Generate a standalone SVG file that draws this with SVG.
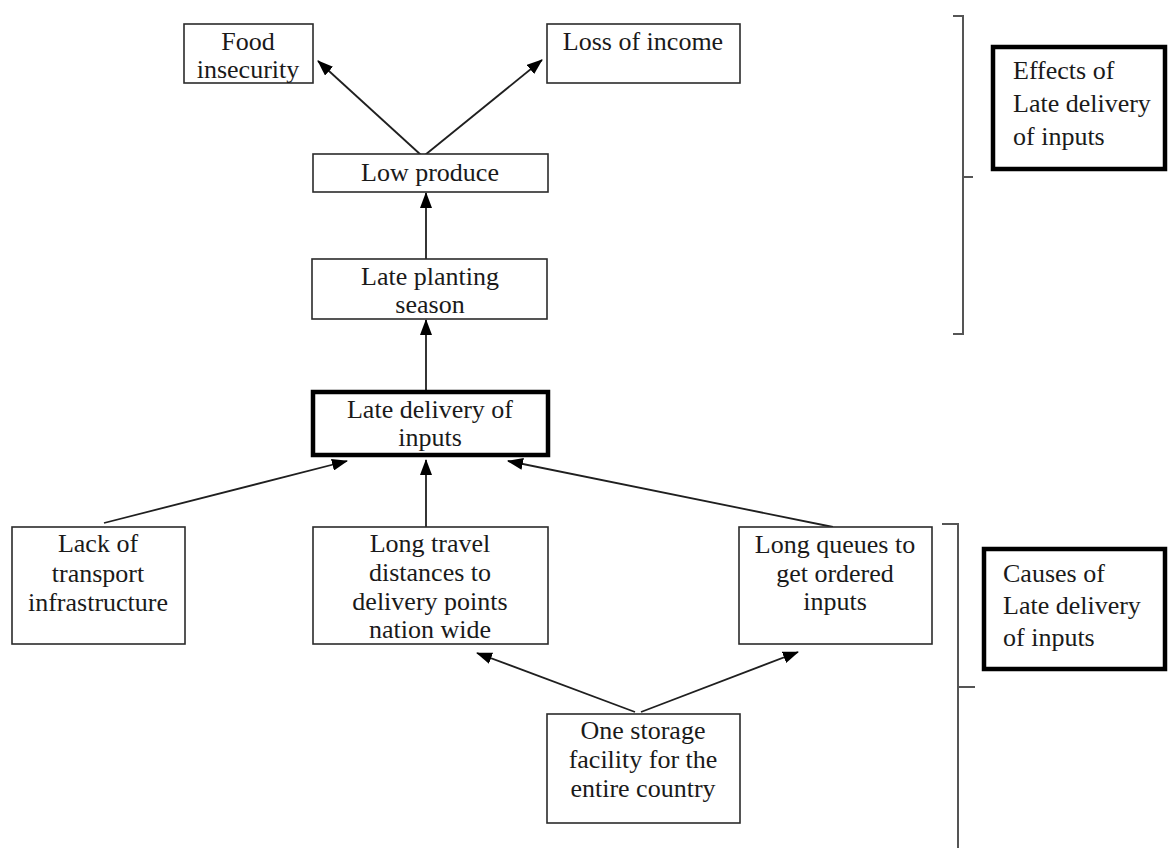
<svg xmlns="http://www.w3.org/2000/svg" width="1169" height="848" viewBox="0 0 1169 848">
  <style>
    .box { fill: #ffffff; stroke: #2b2b2b; stroke-width: 1.6; }
    .key { fill: #ffffff; stroke: #000000; stroke-width: 4.5; }
    .lbl { font-family: 'Liberation Serif', 'Times New Roman', 'DejaVu Serif', serif; font-size: 26px; fill: #1a1a1a; text-anchor: middle; }
    .note { font-family: 'Liberation Serif', 'Times New Roman', 'DejaVu Serif', serif; font-size: 26px; fill: #1a1a1a; }
    .edge { stroke: #1f1f1f; stroke-width: 1.8; fill: none; marker-end: url(#head); }
    .brace { stroke: #555555; stroke-width: 2; fill: none; }
  </style>
  <defs>
    <marker id="head" markerUnits="userSpaceOnUse" markerWidth="16" markerHeight="12" refX="15" refY="6" orient="auto">
      <path d="M0,0 L16,6 L0,12 Z" fill="#000000"/>
    </marker>
  </defs>
  <rect width="1169" height="848" fill="#ffffff"/>

  <g id="connectors">
    <line class="edge" x1="421" y1="155" x2="318" y2="61"/>
    <line class="edge" x1="425" y1="155" x2="542" y2="60"/>
    <line class="edge" x1="426" y1="259" x2="426" y2="193"/>
    <line class="edge" x1="426" y1="390" x2="426" y2="320"/>
    <line class="edge" x1="104" y1="523" x2="347" y2="461"/>
    <line class="edge" x1="426" y1="527" x2="426" y2="460"/>
    <line class="edge" x1="833" y1="527" x2="508" y2="461"/>
    <line class="edge" x1="635" y1="712" x2="477" y2="653"/>
    <line class="edge" x1="641" y1="712" x2="798" y2="652"/>
  </g>

  <g id="food-insecurity">
    <rect class="box" x="184" y="24" width="129" height="59"/>
    <text class="lbl" x="248" y="50">Food</text>
    <text class="lbl" x="248" y="78">insecurity</text>
  </g>
  <g id="loss-of-income">
    <rect class="box" x="547" y="24" width="193" height="59"/>
    <text class="lbl" x="643" y="50">Loss of income</text>
  </g>
  <g id="low-produce">
    <rect class="box" x="313" y="154" width="235" height="38"/>
    <text class="lbl" x="430" y="181">Low produce</text>
  </g>
  <g id="late-planting">
    <rect class="box" x="312" y="259" width="235" height="60"/>
    <text class="lbl" x="430" y="285">Late planting</text>
    <text class="lbl" x="430" y="313">season</text>
  </g>
  <g id="late-delivery">
    <rect class="key" x="313" y="392" width="235" height="63"/>
    <text class="lbl" x="430" y="418">Late delivery of</text>
    <text class="lbl" x="430" y="446">inputs</text>
  </g>
  <g id="lack-of-transport">
    <rect class="box" x="12" y="527" width="173" height="117"/>
    <text class="lbl" x="98" y="552">Lack of</text>
    <text class="lbl" x="98" y="582">transport</text>
    <text class="lbl" x="98" y="611">infrastructure</text>
  </g>
  <g id="long-travel">
    <rect class="box" x="313" y="527" width="235" height="117"/>
    <text class="lbl" x="430" y="552">Long travel</text>
    <text class="lbl" x="430" y="581">distances to</text>
    <text class="lbl" x="430" y="610">delivery points</text>
    <text class="lbl" x="430" y="638">nation wide</text>
  </g>
  <g id="long-queues">
    <rect class="box" x="739" y="527" width="193" height="117"/>
    <text class="lbl" x="835" y="553">Long queues to</text>
    <text class="lbl" x="835" y="582">get ordered</text>
    <text class="lbl" x="835" y="610">inputs</text>
  </g>
  <g id="one-storage">
    <rect class="box" x="547" y="714" width="193" height="109"/>
    <text class="lbl" x="643" y="739">One storage</text>
    <text class="lbl" x="643" y="768">facility for the</text>
    <text class="lbl" x="643" y="797">entire country</text>
  </g>

  <g id="effects-group">
    <path class="brace" d="M953,16 H963 V334 H953 M963,177 H973"/>
    <rect class="key" x="993" y="47" width="172" height="122"/>
    <text class="note" x="1013" y="79">Effects of</text>
    <text class="note" x="1013" y="112">Late delivery</text>
    <text class="note" x="1013" y="145">of inputs</text>
  </g>
  <g id="causes-group">
    <path class="brace" d="M942,524 H958 V850 M958,687 H975"/>
    <rect class="key" x="984" y="549" width="181" height="120"/>
    <text class="note" x="1003" y="582">Causes of</text>
    <text class="note" x="1003" y="614">Late delivery</text>
    <text class="note" x="1003" y="646">of inputs</text>
  </g>
</svg>
